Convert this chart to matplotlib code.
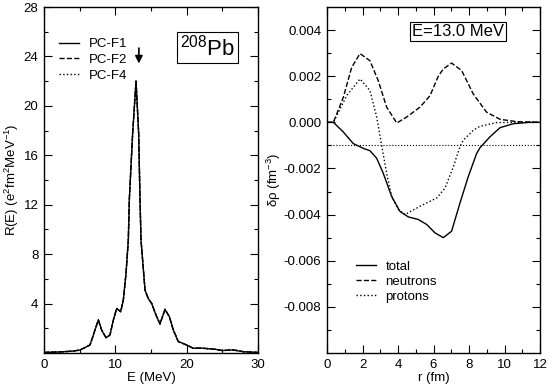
import numpy as np
import matplotlib
matplotlib.use("Agg")
import matplotlib.pyplot as plt
from matplotlib.ticker import FixedLocator, FormatStrFormatter

plt.rcParams["font.family"] = ["Liberation Sans", "DejaVu Sans"]
plt.rcParams["axes.unicode_minus"] = False
plt.rcParams["mathtext.fontset"] = "custom"
plt.rcParams["mathtext.rm"] = "Liberation Sans"
plt.rcParams["mathtext.it"] = "Liberation Sans"

# --- left panel: strength function R(E) ---
energy = [0, 2, 4, 5.05, 6.45, 7.15, 7.62, 8.08, 8.69, 9.25, 9.72, 10.19,
          10.75, 11.12, 11.5, 11.82, 11.96, 12.43, 12.9, 13.27, 13.46, 13.6,
          14.16, 14.6, 15.1, 15.7, 16.26, 16.96, 17.57, 18.13, 18.83, 20.0,
          20.93, 22.0, 24.0, 25.0, 26.5, 28.0, 30.0]
r_e = [0.05, 0.08, 0.15, 0.24, 0.65, 1.86, 2.67, 1.86, 1.24, 1.46, 2.67, 3.6,
       3.34, 4.29, 6.45, 9.14, 12.4, 17.8, 22.0, 17.8, 12.4, 9.14,
       5.1, 4.42, 4.0, 3.07, 2.35, 3.53, 2.94, 1.86, 0.92, 0.65,
       0.38, 0.4, 0.3, 0.2, 0.25, 0.1, 0.05]
pc_labels = ["PC-F1", "PC-F2", "PC-F4"]
pc_styles = ["-", "--", ":"]

# --- right panel: transition densities at E=13.0 MeV ---
r_tot = [0, 0.36, 0.92, 1.48, 2.05, 2.42, 2.80, 3.17, 3.64, 4.11, 4.58, 5.14,
         5.62, 6.08, 6.55, 7.02, 7.49, 7.96, 8.43, 8.62, 9.18, 9.75, 10.5,
         11.4, 12.0]
rho_total = [0, 0, -0.00042, -0.00092, -0.00113, -0.00123, -0.00156, -0.00221,
             -0.00321, -0.00386, -0.0041, -0.00421, -0.00443, -0.00479, -0.0050,
             -0.00472, -0.0035, -0.00235, -0.00135, -0.0011, -0.00063, -0.00023,
             -0.00006, 0, 0]

r_neu = [0, 0.36, 0.92, 1.39, 1.86, 2.42, 2.89, 3.36, 3.93, 4.49, 5.24, 5.80,
         6.27, 6.55, 7.02, 7.59, 8.24, 8.99, 9.75, 10.7, 12.0]
rho_neutrons = [0, 0, 0.00109, 0.00238, 0.00298, 0.00267, 0.0018, 0.00066,
                -0.00003, 0.00023, 0.00066, 0.00115, 0.002, 0.00231, 0.00257,
                0.00224, 0.00123, 0.00044, 0.00013, 0.00003, 0]

r_pro = [0, 0.36, 1.11, 1.86, 2.42, 2.80, 3.08, 3.36, 3.64, 4.02, 4.39, 5.24,
         6.18, 6.65, 7.12, 7.49, 7.68, 8.06, 8.24, 8.62, 9.56, 12.0]
rho_protons = [0, 0, 0.00116, 0.00188, 0.00138, 0.00023, -0.001, -0.00221,
               -0.00321, -0.00378, -0.004, -0.00364, -0.00328, -0.00285,
               -0.00192, -0.00106, -0.00077, -0.00049, -0.00034, -0.00017,
               -0.00001, 0]
rho_labels = ["total", "neutrons", "protons"]

fig = plt.figure(figsize=(5.49, 3.89), dpi=100)
axL = fig.add_axes([44 / 549, 1 - 353 / 389, 214 / 549, 346 / 389])
axR = fig.add_axes([327 / 549, 1 - 353 / 389, 213 / 549, 346 / 389])

for ax in (axL, axR):
    ax.tick_params(which="both", direction="in", top=True, right=True,
                   labelsize=9.5, pad=4)
    ax.tick_params(which="major", length=6, width=0.8)
    ax.tick_params(which="minor", length=3, width=0.8)
    for s in ax.spines.values():
        s.set_linewidth(1.0)

# left
for lab, ls in zip(pc_labels, pc_styles):
    axL.plot(energy, r_e, ls, color="black", lw=1.0, label=lab)
axL.set_xlim(0, 30)
axL.set_ylim(0, 28)
axL.xaxis.set_major_locator(FixedLocator([0, 10, 20, 30]))
axL.xaxis.set_minor_locator(FixedLocator([5, 15, 25]))
axL.yaxis.set_major_locator(FixedLocator([4, 8, 12, 16, 20, 24, 28]))
axL.yaxis.set_minor_locator(FixedLocator([2, 6, 10, 14, 18, 22, 26]))
axL.set_xlabel("E (MeV)", fontsize=9.5, labelpad=1)
axL.set_ylabel(r"R(E) (e$^2$fm$^2$MeV$^{-1}$)", fontsize=9.5, labelpad=2)
axL.legend(loc="upper left", bbox_to_anchor=(0.07, 0.91), frameon=False,
           fontsize=9.5, handlelength=1.5, handletextpad=0.75,
           labelspacing=0.26, borderpad=0, borderaxespad=0)
axL.annotate("", xy=(13.3, 23.2), xytext=(13.3, 24.9),
             arrowprops=dict(arrowstyle="-|>", color="black", lw=1.2,
                             mutation_scale=11))
axL.text(0.764, 0.883, r"$^{208}$Pb", transform=axL.transAxes, fontsize=16,
         ha="center", va="center",
         bbox=dict(boxstyle="square,pad=0.12", fc="white", ec="black", lw=0.8))

# right
axR.axhline(-0.001, color="black", ls=":", lw=0.8)
axR.plot(r_tot, rho_total, "-", color="black", lw=1.0, label=rho_labels[0])
axR.plot(r_neu, rho_neutrons, "--", color="black", lw=1.0, label=rho_labels[1])
axR.plot(r_pro, rho_protons, ":", color="black", lw=1.0, label=rho_labels[2])
axR.set_xlim(0, 12)
axR.set_ylim(-0.010, 0.005)
axR.xaxis.set_major_locator(FixedLocator(range(0, 13, 2)))
axR.xaxis.set_minor_locator(FixedLocator(range(1, 12, 2)))
axR.yaxis.set_major_locator(FixedLocator([-0.008, -0.006, -0.004, -0.002, 0.0, 0.002, 0.004]))
axR.yaxis.set_minor_locator(FixedLocator([-0.009, -0.007, -0.005, -0.003, -0.001, 0.001, 0.003]))
axR.yaxis.set_major_formatter(FormatStrFormatter("%.3f"))
axR.set_xlabel("r (fm)", fontsize=9.5, labelpad=1)
axR.set_ylabel(r"δρ (fm$^{-3}$)", fontsize=9.5, labelpad=0.5)
axR.legend(loc="upper left", bbox_to_anchor=(0.135, 0.268), frameon=False,
           fontsize=9.5, handlelength=1.5, handletextpad=0.75,
           labelspacing=0.22, borderpad=0, borderaxespad=0)
axR.text(0.617, 0.929, "E=13.0 MeV", transform=axR.transAxes, fontsize=12,
         ha="center", va="center",
         bbox=dict(boxstyle="square,pad=0.12", fc="white", ec="black", lw=0.8))

fig.savefig("out.png", dpi=100)
